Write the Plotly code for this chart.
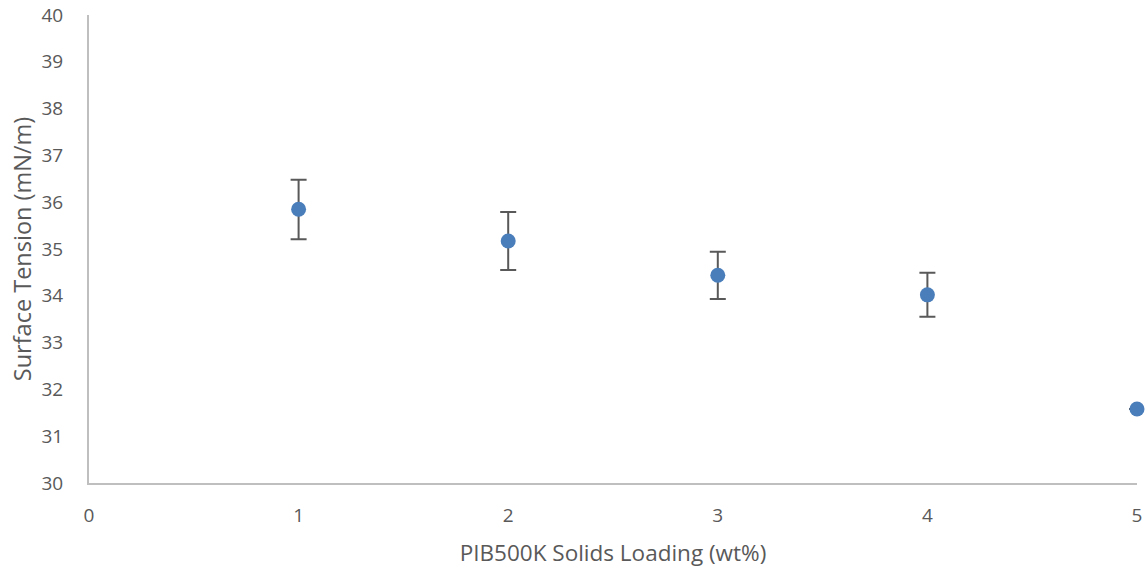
import plotly.graph_objects as go

loading = [1, 2, 3, 4, 5]
tension = [35.85, 35.17, 34.44, 34.02, 31.58]
err_plus = [0.63, 0.62, 0.50, 0.47, 0.0]
err_minus = [0.64, 0.62, 0.51, 0.47, 0.0]

x_ticks = [0, 1, 2, 3, 4, 5]
y_ticks = [30, 31, 32, 33, 34, 35, 36, 37, 38, 39, 40]

fig = go.Figure()
fig.add_trace(go.Scatter(
    x=loading, y=tension, mode="markers",
    marker=dict(size=15, color="#4a7ebb"),
    error_y=dict(type="data", symmetric=False, array=err_plus, arrayminus=err_minus,
                 color="#595959", thickness=2, width=8),
    cliponaxis=False, showlegend=False,
))

font = "Open Sans, Lato, sans-serif"
fig.update_layout(
    width=1148, height=572,
    margin=dict(l=89, r=11, t=15, b=89, autoexpand=False),
    paper_bgcolor="white", plot_bgcolor="white",
    font=dict(family=font, color="#595959", size=19),
    xaxis=dict(range=[0, 5], tickvals=x_ticks, showgrid=False, zeroline=False,
               showline=True, linecolor="#bfbfbf", linewidth=2, ticks="",
               ticklabelstandoff=14, automargin=False,
               title=dict(text="PIB500K Solids Loading (wt%)", font=dict(size=22.5), standoff=18)),
    yaxis=dict(range=[30, 40], tickvals=y_ticks, showgrid=False, zeroline=False,
               showline=True, linecolor="#bfbfbf", linewidth=2, ticks="",
               ticklabelstandoff=20, automargin=False,
               title=dict(text="Surface Tension (mN/m)", font=dict(size=23.5), standoff=3)),
)
fig.write_html("out.html", config={"displayModeBar": False},
               post_script="document.body.style.margin='0';document.body.style.overflow='hidden';")
